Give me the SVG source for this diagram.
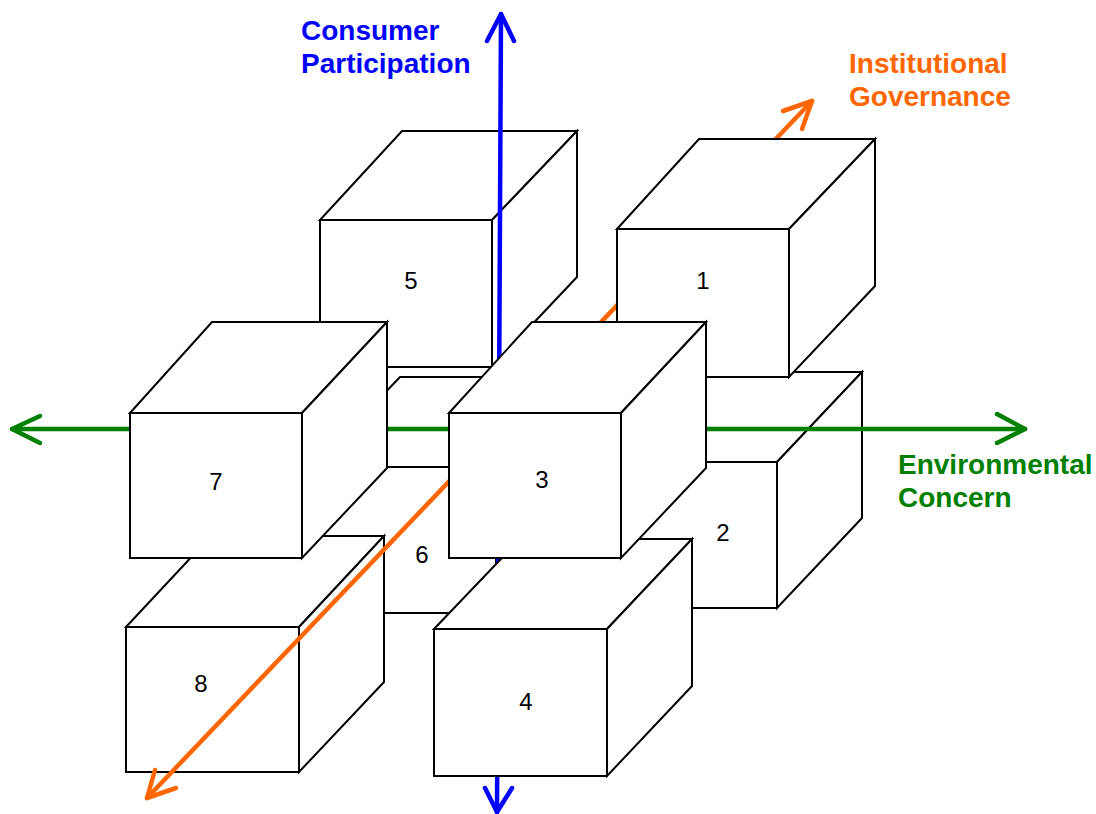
<svg xmlns="http://www.w3.org/2000/svg" width="1096" height="814" viewBox="0 0 1096 814">
<style>
.f{fill:#fff;stroke:#000;stroke-width:2;stroke-linejoin:miter}
.n{font-family:"Liberation Sans",Arial,sans-serif;font-size:24px;fill:#000;text-anchor:middle}
.ax{fill:none;stroke-width:4.5;stroke-linecap:round;stroke-linejoin:round}
.lb{font-family:"Liberation Sans",Arial,sans-serif;font-size:28px;font-weight:bold}
</style>
<rect width="1096" height="814" fill="#fff"/>
<g id="cube6">
<path class="f" d="M314,467 L400,377 L582,377 L496,467 Z"/>
<path class="f" d="M496,467 L582,377 L582,523 L496,613 Z"/>
<rect class="f" x="314" y="467" width="182" height="146"/>
<text class="n" x="422" y="563">6</text>
</g>
<g id="cube2">
<path class="f" d="M605,462 L690,372 L862,372 L777,462 Z"/>
<path class="f" d="M777,462 L862,372 L862,518 L777,608 Z"/>
<rect class="f" x="605" y="462" width="172" height="146"/>
<text class="n" x="723" y="541">2</text>
</g>
<g id="cube5">
<path class="f" d="M320,220 L402,131 L577,131 L492,220 Z"/>
<path class="f" d="M492,220 L577,131 L577,277 L492,367 Z"/>
<rect class="f" x="320" y="220" width="172" height="147"/>
<text class="n" x="411" y="289">5</text>
</g>
<g id="cube8">
<path class="f" d="M126,627 L211,536 L384,536 L299,627 Z"/>
<path class="f" d="M299,627 L384,536 L384,682 L299,772 Z"/>
<rect class="f" x="126" y="627" width="173" height="145"/>
<text class="n" x="201" y="692">8</text>
</g>
<g id="connectors">
<g stroke="#0000ff" class="ax">
<path d="M501,14 L497,812"/>
<path d="M487,41 L501,14 L514,41"/>
<path d="M485,788 L497,812 L512,788"/>
</g>
<g stroke="#008000" class="ax">
<path d="M12,429 L1025,429"/>
<path d="M40,416 L12,429 L40,443"/>
<path d="M997,414 L1025,429 L997,443"/>
</g>
<g stroke="#ff6600" class="ax">
<path d="M812,101 L147,798"/>
<path d="M783,111 L812,101 L802,129"/>
<path d="M155,770 L147,798 L176,788"/>
</g>
</g>
<g id="cube1">
<path class="f" d="M617,229 L699,139 L875,139 L789,229 Z"/>
<path class="f" d="M789,229 L875,139 L875,286 L789,377 Z"/>
<rect class="f" x="617" y="229" width="172" height="148"/>
<text class="n" x="703" y="289">1</text>
</g>
<g id="cube4">
<path class="f" d="M434,629 L520,539 L692,539 L607,629 Z"/>
<path class="f" d="M607,629 L692,539 L692,686 L607,776 Z"/>
<rect class="f" x="434" y="629" width="173" height="147"/>
<text class="n" x="526" y="710">4</text>
</g>
<g id="cube7">
<path class="f" d="M130,413 L212,322 L387,322 L302,413 Z"/>
<path class="f" d="M302,413 L387,322 L387,468 L302,558 Z"/>
<rect class="f" x="130" y="413" width="172" height="145"/>
<text class="n" x="216" y="490">7</text>
</g>
<g id="cube3">
<path class="f" d="M449,413 L532,322 L706,322 L621,413 Z"/>
<path class="f" d="M621,413 L706,322 L706,468 L621,558 Z"/>
<rect class="f" x="449" y="413" width="172" height="145"/>
<text class="n" x="542" y="488">3</text>
</g>
<g id="labels">
<text class="lb" fill="#0000ff" x="301" y="40">Consumer</text>
<text class="lb" fill="#0000ff" x="301" y="73">Participation</text>
<text class="lb" fill="#ff6600" x="849" y="73">Institutional</text>
<text class="lb" fill="#ff6600" x="849" y="106">Governance</text>
<text class="lb" fill="#008000" x="898" y="474">Environmental</text>
<text class="lb" fill="#008000" x="898" y="507">Concern</text>
</g>
</svg>
